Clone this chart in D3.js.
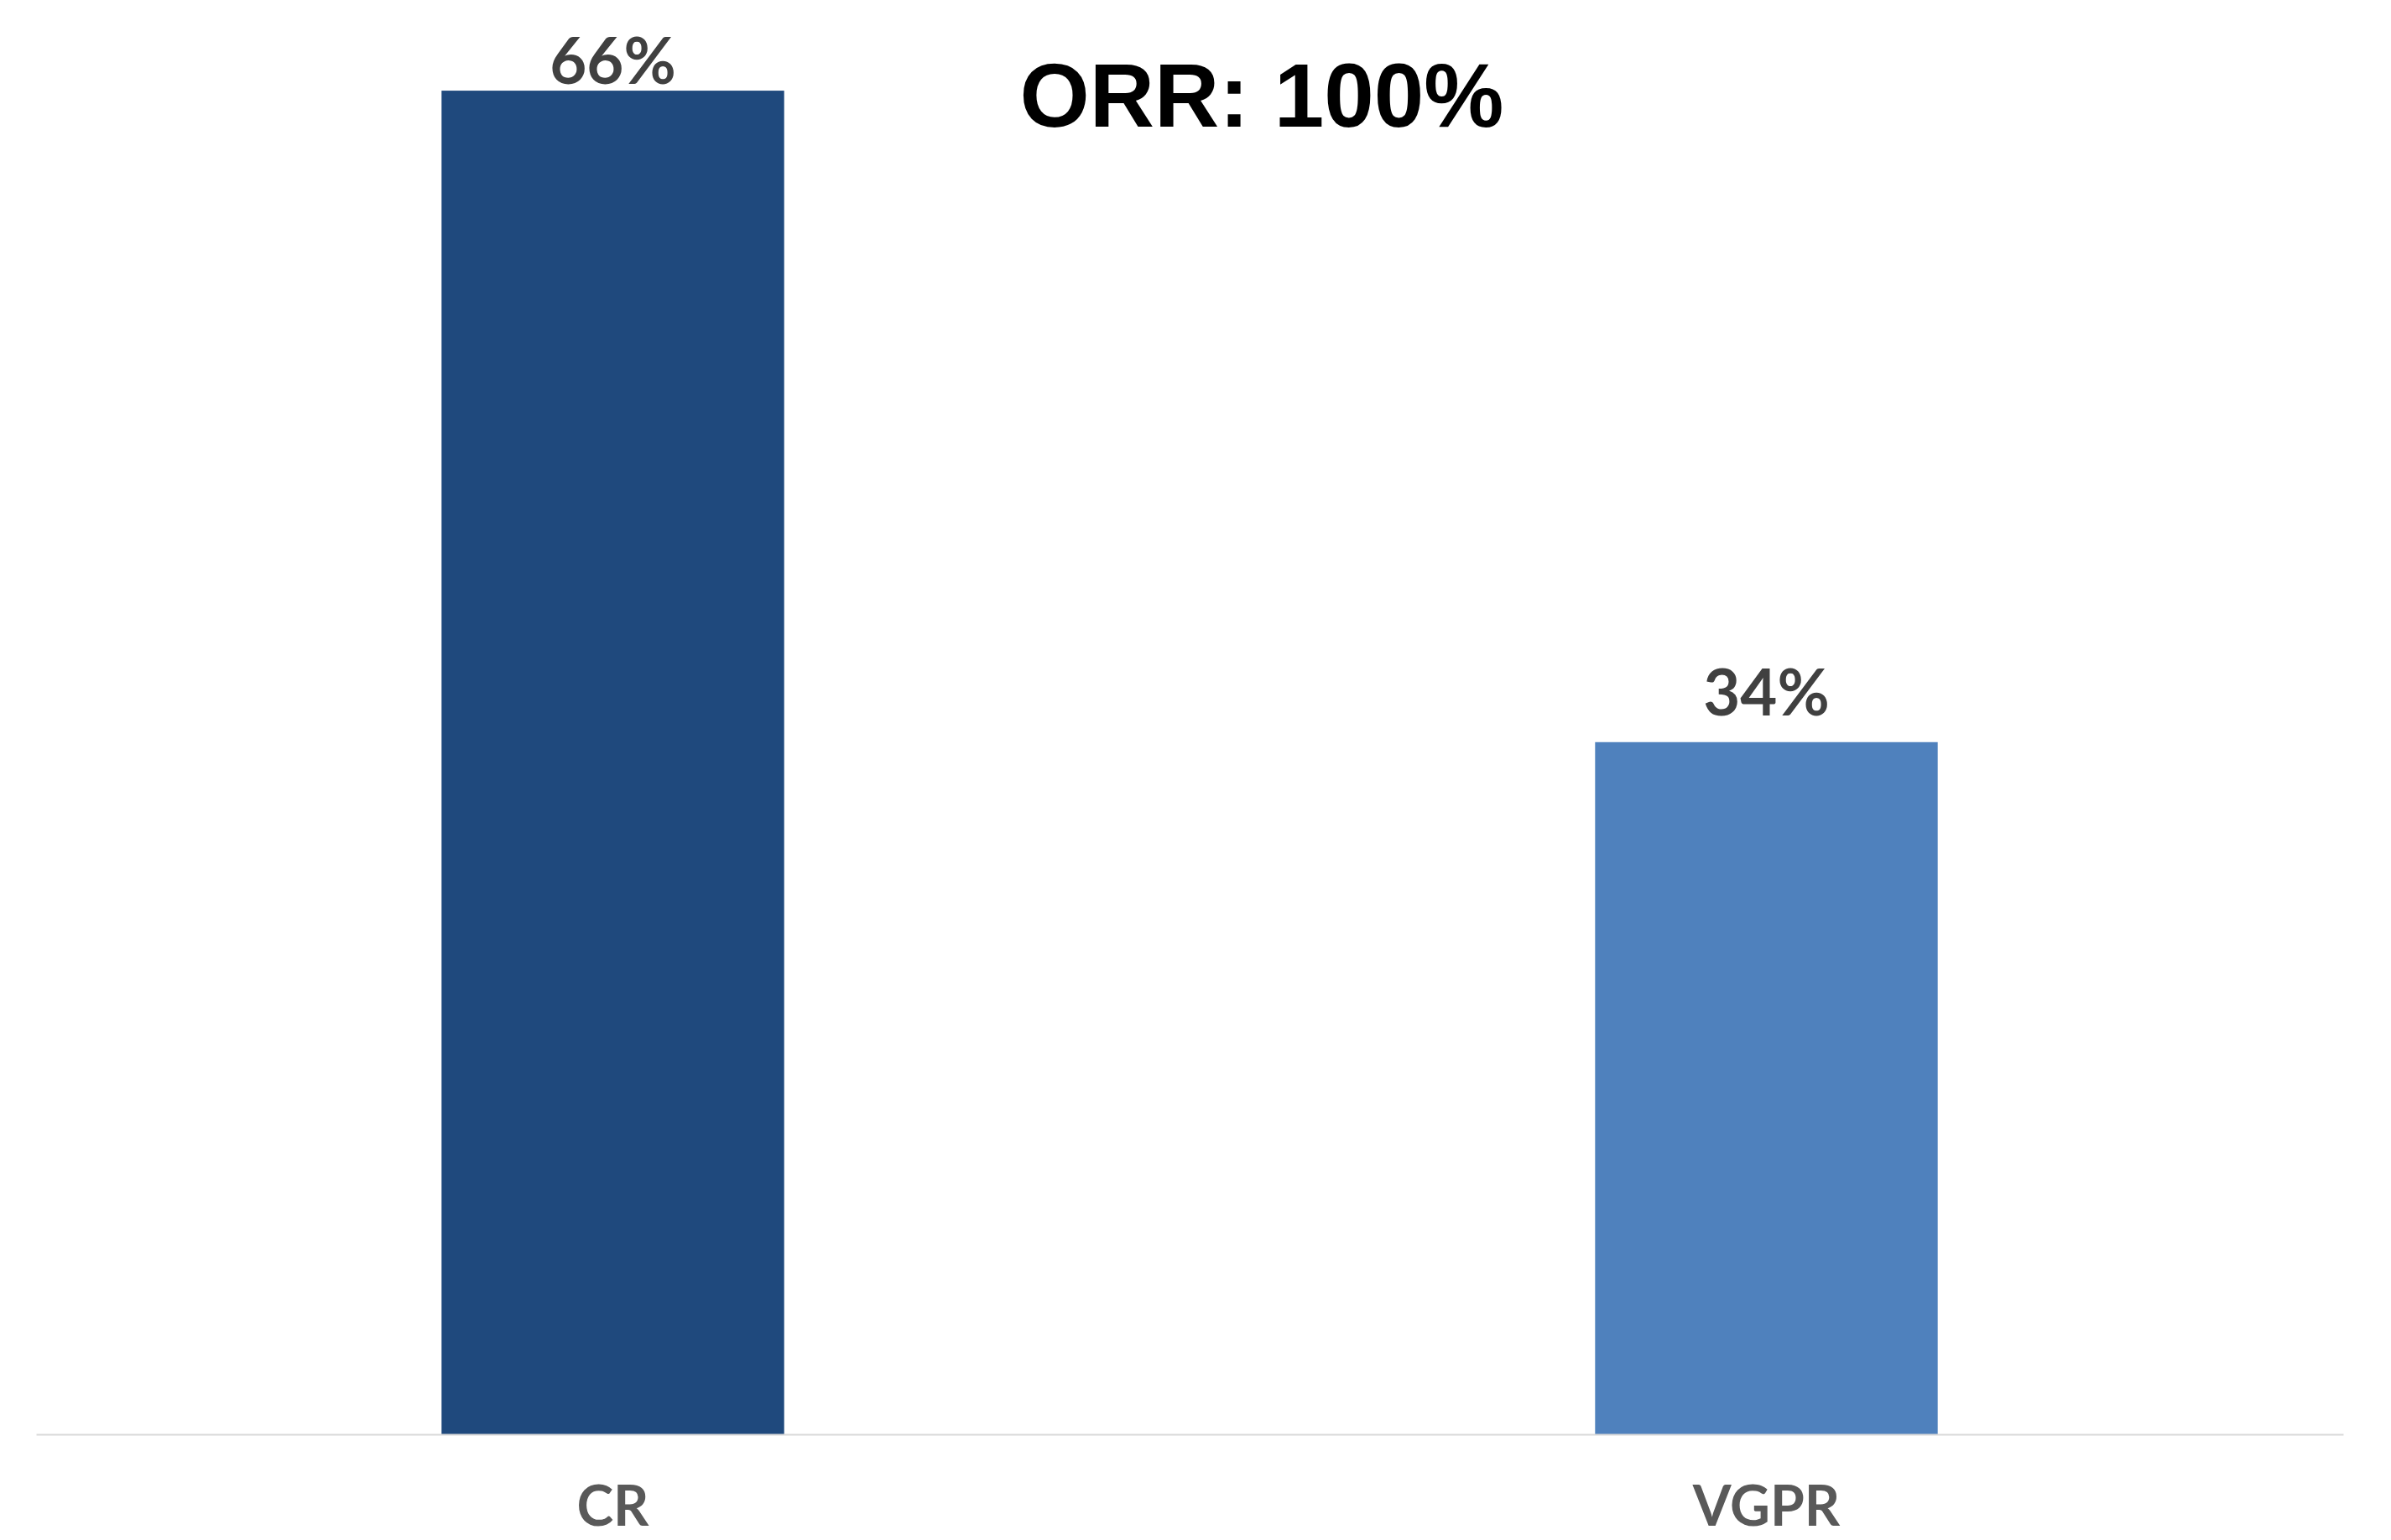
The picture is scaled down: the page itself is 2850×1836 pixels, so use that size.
<!DOCTYPE html>
<html>
<head>
<meta charset="utf-8">
<script src="https://cdn.jsdelivr.net/npm/d3@7"></script>
<style>
  body { margin: 0; background: #fff; }
</style>
</head>
<body>
<div class="chart"></div>
<script>
// data
const categories = ["CR", "VGPR"];
const values = [66, 34];
const barColors = ["#1f497d", "#4f81bd"];
const title = "ORR: 100%";

const width = 2850, height = 1836;
const margin = { top: 11, right: 57, bottom: 126, left: 43 };
const chartWidth = width - margin.left - margin.right;
const chartHeight = height - margin.top - margin.bottom;

let svg = d3.select(".chart")
  .append("svg")
    .attr("width", width)
    .attr("height", height);

let chart = svg.append("g")
    .attr("transform", "translate(" + margin.left + "," + margin.top + ")");

let x = d3.scaleBand()
  .domain(categories)
  .range([0, chartWidth])
  .paddingInner(0.703)
  .paddingOuter(0.3515);

let y = d3.scaleLinear()
  .domain([0, 70])
  .range([chartHeight, 0]);

// bars
chart.selectAll(".bar")
  .data(values)
  .enter().append("rect")
    .attr("class", "bar")
    .attr("x", (d, i) => x(categories[i]))
    .attr("y", d => y(d))
    .attr("width", x.bandwidth())
    .attr("height", d => chartHeight - y(d))
    .attr("fill", (d, i) => barColors[i]);

// x axis
let xAxis = chart.append("g")
  .attr("transform", "translate(0," + chartHeight + ")")
  .call(d3.axisBottom(x).tickSize(0).tickPadding(109));
xAxis.select(".domain").attr("stroke", "#d9d9d9").attr("stroke-width", 2);
xAxis.selectAll("text")
  .attr("font-family", "Lato, 'Open Sans', sans-serif")
  .attr("font-weight", "bold")
  .attr("font-size", 66)
  .attr("fill", "#595959")
  .attr("dy", 0);

// value labels (kept inside the top of the plot like Excel does)
chart.selectAll(".label")
  .data(values)
  .enter().append("text")
    .attr("class", "label")
    .attr("x", (d, i) => x(categories[i]) + x.bandwidth() / 2)
    .attr("y", d => Math.max(y(d) - 32, 89))
    .attr("text-anchor", "middle")
    .attr("font-family", "Lato, 'Open Sans', sans-serif")
    .attr("font-weight", "bold")
    .attr("font-size", 76)
    .attr("fill", "#404040")
    .text(d => d + "%");

// title
svg.append("text")
  .attr("x", 1504)
  .attr("y", 151)
  .attr("text-anchor", "middle")
  .attr("font-family", "'Liberation Sans', Arial, sans-serif")
  .attr("font-weight", "bold")
  .attr("font-size", 107)
  .attr("fill", "#000")
  .text(title);
</script>
</body>
</html>
